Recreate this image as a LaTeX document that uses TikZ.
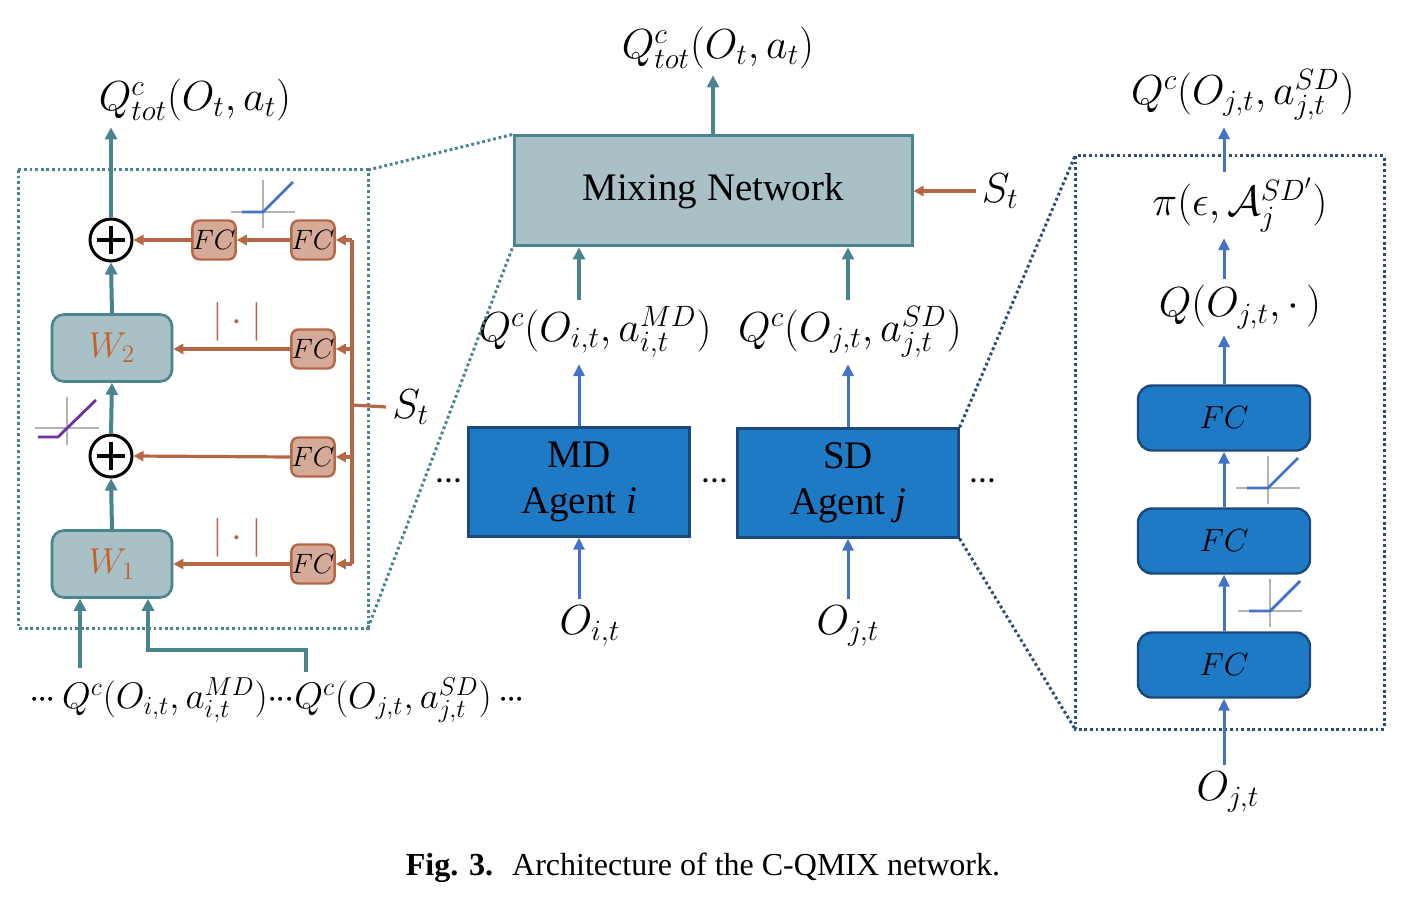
\documentclass[tikz,border=0pt]{standalone}
\usepackage{fix-cm}
\usepackage{fontspec}
\setmainfont{Liberation Serif}
\usepackage{tikz}
\usetikzlibrary{arrows.meta, calc, positioning}
\definecolor{tealline}{RGB}{74,132,143}
\definecolor{tealfill}{RGB}{168,192,198}
\definecolor{brownline}{RGB}{181,104,70}
\definecolor{brownfill}{RGB}{214,170,152}
\definecolor{wtext}{RGB}{196,98,40}
\definecolor{bluearrowc}{RGB}{68,114,196}
\definecolor{agentfill}{RGB}{30,122,196}
\definecolor{agentstroke}{RGB}{28,72,122}
\definecolor{darkdot}{RGB}{45,78,120}
\definecolor{axisgray}{RGB}{180,180,180}
\definecolor{reluviolet}{RGB}{112,48,160}
\newcommand{\tdots}{{\cdot}\mkern-1mu{\cdot}\mkern-1mu{\cdot}}
\tikzset{
  mixbox/.style={
    rectangle, draw=tealline, fill=tealfill, line width=1.5pt,
    minimum width=199pt, minimum height=55pt,
    font=\fontsize{19.5}{23}\selectfont
  },
  agentbox/.style={
    rectangle, draw=agentstroke, fill=agentfill, line width=1.2pt,
    minimum width=110.5pt, minimum height=54.5pt, align=center,
    font=\fontsize{19.5}{23}\selectfont
  },
  wbox/.style={
    rectangle, rounded corners=6pt, draw=tealline, fill=tealfill,
    line width=1.3pt, minimum width=60pt, minimum height=33.5pt,
    text=wtext, font=\fontsize{18}{21}\selectfont
  },
  fcsmall/.style={
    rectangle, rounded corners=3.5pt, draw=brownline, fill=brownfill,
    line width=1.2pt, minimum size=19.5pt, inner sep=0pt,
    font=\fontsize{14}{16}\selectfont
  },
  fcbig/.style={
    rectangle, rounded corners=7pt, draw=agentstroke, fill=agentfill,
    line width=1.2pt, minimum width=86pt, minimum height=32.5pt,
    font=\fontsize{16}{18}\selectfont
  },
  sumnode/.style={
    circle, draw=black, line width=1.5pt, minimum size=21pt,
    inner sep=0pt, fill=white,
    path picture={
      \draw[line width=2pt]
        ($(path picture bounding box.center)+(-7pt,0)$) --
        ($(path picture bounding box.center)+(7pt,0)$)
        ($(path picture bounding box.center)+(0,-7pt)$) --
        ($(path picture bounding box.center)+(0,7pt)$);
    }
  },
  mathlbl/.style={inner sep=3pt, font=\fontsize{21}{25}\selectfont},
  plainlbl/.style={inner sep=2pt, font=\fontsize{19.5}{23}\selectfont},
  tealarrow/.style={-{Triangle[length=6pt,width=6pt]}, line width=2pt, draw=tealline},
  tealwire/.style={line width=2pt, draw=tealline},
  bluearrow/.style={-{Triangle[length=6pt,width=5.5pt]}, line width=1.5pt, draw=bluearrowc},
  brownarrow/.style={-{Triangle[length=5pt,width=5pt]}, line width=1.6pt, draw=brownline},
  brownwire/.style={line width=1.6pt, draw=brownline},
  zoomteal/.style={line width=1.5pt, draw=tealline, dash pattern=on 1.4pt off 1.4pt},
  zoomblue/.style={line width=1.5pt, draw=darkdot, dash pattern=on 1.4pt off 1.4pt},
  relu/.pic={
    \draw[axisgray, line width=1pt] (0,-32) -- (0,16) (-32,0) -- (32,0);
    \draw[bluearrowc, line width=1.4pt] (-21,0) -- (0,0) -- (30,-30);
  }
}

\begin{document}
\begin{tikzpicture}[x=0.5pt, y=-0.5pt]
\useasboundingbox (0,0) rectangle (1418,914);

%% ─── MIXING NETWORK ─────────────────────────────────────────
\node[mixbox] (mix) at (713,191) {Mixing Network};
\node[mathlbl] (totM) at (718,48) {$Q^{c}_{tot}(O_t,a_t)$};
\node[mathlbl, right=31pt of mix.east] (stM) {$S_t$};
\draw[tealarrow] (mix.north) -- (mix.north |- totM.south);
\draw[brownarrow] (stM.west) -- (mix.east);

%% ─── AGENTS ─────────────────────────────────────────────────
\node[agentbox] (mdag) at (579,482) {MD\\Agent \textit{i}};
\node[agentbox] (sdag) at (848,483) {SD\\Agent \textit{j}};

\node[mathlbl] (qi) at (595,332) {$Q^{c}(O_{i,t},a^{MD}_{i,t})$};
\node[mathlbl] (qj) at (850,332) {$Q^{c}(O_{j,t},a^{SD}_{j,t})$};
\node[mathlbl] (oi) at (590,626) {$O_{i,t}$};
\node[mathlbl] (oj) at (848,626) {$O_{j,t}$};

\node[plainlbl] (dotsA) at (449,482) {$\tdots$};
\node[plainlbl] (dotsB) at (715,482) {$\tdots$};
\node[plainlbl] (dotsC) at (983,482) {$\tdots$};

%% agent arrows
\draw[bluearrow] (mdag.south |- oi.north) -- (mdag.south);
\draw[bluearrow] (sdag.south |- oj.north) -- (sdag.south);
\draw[bluearrow] (mdag.north) -- (mdag.north |- qi.south);
\draw[bluearrow] (sdag.north) -- (sdag.north |- qj.south);
\draw[tealarrow] (mdag.north |- qi.north) -- (mdag.north |- mix.south);
\draw[tealarrow] (sdag.north |- qj.north) -- (sdag.north |- mix.south);

%% ─── LEFT PANEL (mixer inside) ──────────────────────────────
\coordinate (lzTL) at (18,170);
\coordinate (lzBR) at (368,628);
\draw[zoomteal] (lzTL) rectangle (lzBR);
\draw[zoomteal] (lzBR |- lzTL) -- (mix.north west);
\draw[zoomteal] (lzBR) -- (mix.south west);

\node[wbox] (w1) at (112,564) {$W_1$};
\node[wbox] (w2) at (112,348) {$W_2$};
\node[sumnode] (sum1) at (111,456) {};
\node[sumnode] (sum2) at (111,240) {};

\node[fcsmall] (fcA) at (313,240) {$FC$};
\node[fcsmall] (fcB) at (214,240) {$FC$};
\node[fcsmall] (fcC) at (313,349) {$FC$};
\node[fcsmall] (fcD) at (313,457) {$FC$};
\node[fcsmall] (fcE) at (313,564) {$FC$};

\node[mathlbl] (totL) at (195,100) {$Q^{c}_{tot}(O_t,a_t)$};
\node[plainlbl, text=brownline] (absA) at (237,322) {$|\cdot|$};
\node[plainlbl, text=brownline] (absB) at (237,538) {$|\cdot|$};

%% teal main path
\draw[tealarrow] (w1.north) -- (sum1.south);
\draw[tealarrow] (sum1.north) -- (w2.south);
\draw[tealarrow] (w2.north) -- (sum2.south);
\draw[tealarrow] (sum2.north) -- (sum2.north |- totL.south);

%% state bus
\coordinate (busT) at (352,240);
\coordinate (busB) at (352,564);
\coordinate (busS) at (352,405);
\node[mathlbl, anchor=west] (stL) at (386,407) {$S_t$};
\draw[brownwire] (busT) -- (busB);
\draw[brownwire] (busS) -- (stL.west);
\draw[brownarrow] (busT) -- (fcA.east);
\draw[brownarrow] (fcC.east -| busT) -- (fcC.east);
\draw[brownarrow] (fcD.east -| busT) -- (fcD.east);
\draw[brownarrow] (busB) -- (fcE.east);
\draw[brownarrow] (fcA.west) -- (fcB.east);
\draw[brownarrow] (fcB.west) -- (sum2.east);
\draw[brownarrow] (fcC.west) -- (w2.east |- fcC.west);
\draw[brownarrow] (fcD.west) -- (sum1.east);
\draw[brownarrow] (fcE.west) -- (w1.east |- fcE.west);

%% activations
\pic at (263,212) {relu};
\begin{scope}[shift={(67,428)}]
  \draw[axisgray, line width=1pt] (0,-31) -- (0,17) (-32,0) -- (32,0);
  \draw[reluviolet, line width=1.4pt] (-29,9) -- (-9,9) -- (29,-28);
\end{scope}

%% mixer inputs
\node[mathlbl, font=\fontsize{18.5}{22}\selectfont] (qall) at (277,700)
  {$\tdots\, Q^{c}(O_{i,t},a^{MD}_{i,t})\tdots Q^{c}(O_{j,t},a^{SD}_{j,t})\,\tdots$};
\coordinate (inA) at (80,668);
\coordinate (inB) at (306,672);
\draw[tealarrow] (inA) -- (inA |- w1.south);
\draw[tealarrow] (inB) -- ++(0,-22) -| ([xshift=18pt]w1.south);

%% ─── RIGHT PANEL (agent inside) ─────────────────────────────
\coordinate (rzTL) at (1075,156);
\coordinate (rzBR) at (1384,729);
\draw[zoomblue] (rzTL) rectangle (rzBR);
\draw[zoomblue] (sdag.north east) -- (rzTL);
\draw[zoomblue] (sdag.south east) -- (rzTL |- rzBR);

\node[fcbig] (fcBot) at (1224,665) {$FC$};
\node[fcbig] (fcMid) at (1224,541) {$FC$};
\node[fcbig] (fcTop) at (1224,418) {$FC$};

\node[mathlbl] (ojR) at (1228,792) {$O_{j,t}$};
\node[mathlbl] (qdot) at (1240,307) {$Q(O_{j,t},\cdot\,)$};
\node[mathlbl] (piL) at (1240,205) {$\pi(\epsilon,\mathcal{A}_j^{SD'})$};
\node[mathlbl] (qjR) at (1243,95) {$Q^{c}(O_{j,t},a^{SD}_{j,t})$};

\draw[bluearrow] (fcBot.south |- ojR.north) -- (fcBot.south);
\draw[bluearrow] (fcBot.north) -- (fcMid.south);
\draw[bluearrow] (fcMid.north) -- (fcTop.south);
\draw[bluearrow] (fcTop.north) -- (fcTop.north |- qdot.south);
\draw[bluearrow] (fcTop.north |- qdot.north) -- (fcTop.north |- piL.south);
\draw[bluearrow] (fcTop.north |- piL.north) -- (fcTop.north |- qjR.south);

\pic at (1268,488) {relu};
\pic at (1270,611) {relu};

%% ─── CAPTION ────────────────────────────────────────────────
\node[font=\fontsize{16}{19}\selectfont] (cap) at (703,868)
  {\textbf{Fig. 3.}\hspace{0.6em}Architecture of the C-QMIX network.};

\end{tikzpicture}
\end{document}
